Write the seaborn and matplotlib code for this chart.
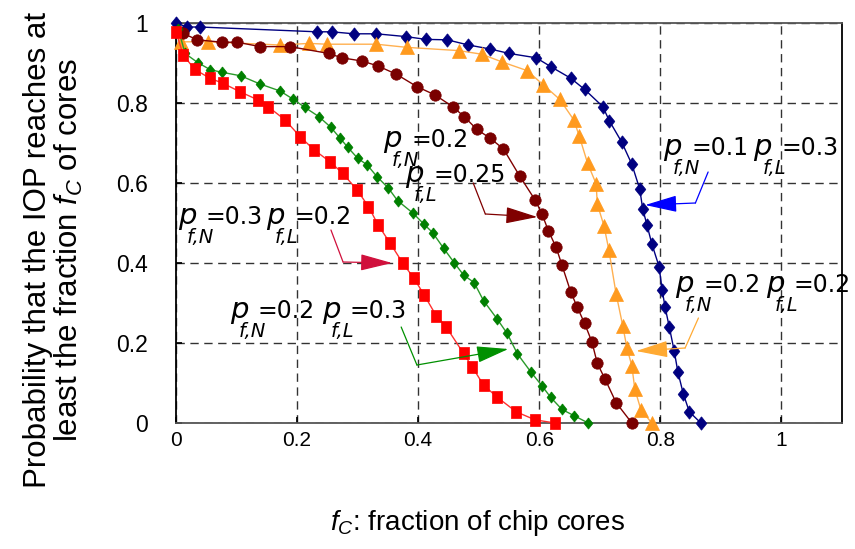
import matplotlib
matplotlib.use("Agg")
import matplotlib.pyplot as plt
import seaborn as sns
import pandas as pd
from matplotlib.transforms import offset_copy

# ---- data -------------------------------------------------------------
# p_fN = 0.1, p_fL = 0.3
navy_x = [0.0, 0.018, 0.039, 0.233, 0.257, 0.294, 0.331, 0.380, 0.413, 0.448,
          0.483, 0.519, 0.550, 0.595, 0.619, 0.652, 0.675, 0.705, 0.716, 0.736,
          0.753, 0.766, 0.771, 0.778, 0.786, 0.798, 0.803, 0.808, 0.815, 0.823,
          0.829, 0.838, 0.848, 0.867]
navy_y = [1.0, 0.99, 0.99, 0.978, 0.978, 0.973, 0.973, 0.966, 0.959, 0.958,
          0.945, 0.935, 0.924, 0.913, 0.891, 0.862, 0.834, 0.791, 0.755, 0.703,
          0.647, 0.585, 0.535, 0.495, 0.448, 0.391, 0.333, 0.289, 0.239, 0.180,
          0.128, 0.073, 0.028, 0.0]

# p_fN = 0.2, p_fL = 0.2
orange_x = [0.008, 0.053, 0.172, 0.220, 0.249, 0.331, 0.382, 0.467, 0.505, 0.538,
            0.580, 0.607, 0.634, 0.657, 0.666, 0.680, 0.694, 0.696, 0.707, 0.715,
            0.727, 0.738, 0.745, 0.753, 0.758, 0.768, 0.786]
orange_y = [0.953, 0.953, 0.945, 0.949, 0.947, 0.947, 0.939, 0.931, 0.922, 0.903,
            0.881, 0.845, 0.809, 0.758, 0.718, 0.649, 0.598, 0.547, 0.493, 0.433,
            0.323, 0.243, 0.187, 0.143, 0.084, 0.033, 0.0]

# p_fN = 0.2, p_fL = 0.25
maroon_x = [0.012, 0.035, 0.0755, 0.101, 0.139, 0.188, 0.252, 0.274, 0.307, 0.333,
            0.364, 0.398, 0.428, 0.457, 0.476, 0.497, 0.519, 0.541, 0.5675, 0.593,
            0.6045, 0.615, 0.628, 0.6375, 0.652, 0.663, 0.675, 0.687, 0.696, 0.709,
            0.727, 0.753]
maroon_y = [0.974, 0.958, 0.952, 0.952, 0.941, 0.941, 0.924, 0.913, 0.905, 0.893,
            0.872, 0.841, 0.820, 0.791, 0.766, 0.734, 0.712, 0.685, 0.618, 0.558,
            0.523, 0.481, 0.439, 0.395, 0.328, 0.289, 0.249, 0.203, 0.149, 0.109,
            0.051, 0.0]

# p_fN = 0.2, p_fL = 0.3
green_x = [0.004, 0.015, 0.036, 0.057, 0.0755, 0.107, 0.138, 0.172, 0.194, 0.213,
           0.236, 0.256, 0.271, 0.284, 0.300, 0.316, 0.332, 0.351, 0.366, 0.392,
           0.409, 0.424, 0.442, 0.4595, 0.475, 0.4925, 0.508, 0.531, 0.547, 0.564,
           0.586, 0.6045, 0.619, 0.6375, 0.658, 0.681]
green_y = [0.985, 0.924, 0.901, 0.883, 0.877, 0.868, 0.848, 0.830, 0.809, 0.789,
           0.766, 0.739, 0.712, 0.689, 0.662, 0.645, 0.616, 0.587, 0.556, 0.524,
           0.498, 0.476, 0.437, 0.401, 0.370, 0.351, 0.306, 0.259, 0.224, 0.173,
           0.128, 0.093, 0.064, 0.034, 0.018, 0.0]

# p_fN = 0.3, p_fL = 0.2
red_x = [0.0, 0.012, 0.031, 0.056, 0.078, 0.106, 0.135, 0.152, 0.180, 0.205,
         0.228, 0.2545, 0.2755, 0.299, 0.318, 0.334, 0.354, 0.375, 0.393, 0.410,
         0.430, 0.446, 0.475, 0.489, 0.508, 0.531, 0.562, 0.593, 0.626]
red_y = [0.978, 0.920, 0.884, 0.862, 0.849, 0.828, 0.808, 0.791, 0.758, 0.716,
         0.683, 0.653, 0.624, 0.583, 0.541, 0.495, 0.449, 0.399, 0.362, 0.320,
         0.268, 0.241, 0.174, 0.141, 0.095, 0.064, 0.028, 0.008, 0.0]

xticks = [0, 0.2, 0.4, 0.6, 0.8, 1.0]
xtick_labels = ["0", "0.2", "0.4", "0.6", "0.8", "1"]
yticks = [0, 0.2, 0.4, 0.6, 0.8, 1.0]
ytick_labels = ["0", "0.2", "0.4", "0.6", "0.8", "1"]

# ---- style --------------------------------------------------------------
sns.set_theme(style="white")
plt.rcParams["font.family"] = ["Liberation Sans", "DejaVu Sans"]
plt.rcParams["mathtext.fontset"] = "custom"
plt.rcParams["mathtext.it"] = "Liberation Sans:italic"
plt.rcParams["mathtext.rm"] = "Liberation Sans"

# slightly tall marker shapes
tall_diamond = [(0, 1), (0.8, 0), (0, -1), (-0.8, 0), (0, 1)]
tall_square = [(-0.8, -1), (0.8, -1), (0.8, 1), (-0.8, 1), (-0.8, -1)]

fig = plt.figure(figsize=(8.55, 5.49), dpi=100)
ax = fig.add_axes([0.2058, 0.2295, 0.7789, 0.7286])

curves = [
    (navy_x, navy_y, "#000080", "#000080", tall_diamond, 9.6),
    (orange_x, orange_y, "#FF9A1E", "#FFB050", "^", 9.5),
    (maroon_x, maroon_y, "#7A0000", "#800000", "o", 8.2),
    (green_x, green_y, "#008000", "#2A9A2A", tall_diamond, 8.0),
    (red_x, red_y, "#FF0000", "#FF3030", tall_square, 9.0),
]
for xs, ys, mcol, lcol, mk, ms in curves:
    df = pd.DataFrame({"fc": xs, "prob": ys})
    sns.lineplot(data=df, x="fc", y="prob", ax=ax, color=lcol, lw=1.0,
                 marker=mk, markersize=ms, markerfacecolor=mcol,
                 markeredgecolor=mcol, markeredgewidth=0.5,
                 estimator=None, sort=False, clip_on=False, zorder=3)

ax.set_xlim(0, 1.1)
ax.set_ylim(0, 1)
ax.set_xticks(xticks)
ax.set_xticklabels(xtick_labels, fontsize=15)
ax.set_yticks(yticks)
ax.set_yticklabels(ytick_labels, fontsize=16.5)
ax.tick_params(axis="x", direction="in", length=4, pad=6, bottom=True,
               colors="black")
ax.tick_params(axis="y", direction="in", length=4, pad=20, left=True,
               colors="black")
ax.grid(True, color="#333333", linestyle=(0, (6, 4)), linewidth=1)

for side, col in [("left", "black"), ("right", "black"),
                  ("top", "#555555"), ("bottom", "#555555")]:
    ax.spines[side].set_color(col)
    ax.spines[side].set_linewidth(1.3)

ax.set_xlabel(r"$f_C$: fraction of chip cores", fontsize=20, color="black")
ax.set_ylabel("Probability that the IOP reaches at\nleast the fraction $f_C$ of cores",
              fontsize=22.5, linespacing=1.0, color="black")
ax.xaxis.set_label_coords(0.4535, -0.212)
ax.yaxis.set_label_coords(-0.136, 0.4325)


# ---- parameter labels and arrows ------------------------------------
def param_label(x, y, sub, val):
    ax.text(x, y, "p", fontsize=21, style="italic", family="DejaVu Sans",
            va="baseline", ha="left", color="black", zorder=5)
    ax.text(x, y, sub, fontsize=14, style="italic", family="DejaVu Sans",
            va="baseline", ha="left", color="black", zorder=5,
            transform=offset_copy(ax.transData, fig=fig, x=9 * 0.72,
                                  y=-19 * 0.72, units="points"))
    ax.text(x, y, "=" + val, fontsize=17, family="DejaVu Sans",
            va="baseline", ha="left", color="black", zorder=5,
            transform=offset_copy(ax.transData, fig=fig, x=28 * 0.72,
                                  y=0, units="points"))


def leader(points, color):
    xs = [p[0] for p in points[:-1]]
    ys = [p[1] for p in points[:-1]]
    ax.plot(xs, ys, color=color, lw=0.9, clip_on=False, zorder=4)
    ax.annotate("", xy=points[-1], xytext=points[-2],
                arrowprops=dict(arrowstyle="-|>,head_length=1.0,head_width=0.26",
                                mutation_scale=20, color=color, lw=0.9,
                                shrinkA=0, shrinkB=0), zorder=4)


# p_fN=0.2, p_fL=0.25
param_label(0.342, 0.69, "f,N", "0.2")
param_label(0.3785, 0.6025, "f,L", "0.25")
leader([(0.491, 0.60), (0.511, 0.5225), (0.597, 0.515)], "#800000")

# p_fN=0.1, p_fL=0.3
param_label(0.805, 0.67, "f,N", "0.1")
param_label(0.954, 0.67, "f,L", "0.3")
leader([(0.879, 0.6275), (0.858, 0.55), (0.775, 0.545)], "#0000FF")

# p_fN=0.3, p_fL=0.2
param_label(0.003, 0.4975, "f,N", "0.3")
param_label(0.149, 0.4975, "f,L", "0.2")
leader([(0.256, 0.4825), (0.276, 0.4025), (0.357, 0.40)], "#D0103C")

# p_fN=0.2, p_fL=0.3
param_label(0.089, 0.2625, "f,N", "0.2")
param_label(0.241, 0.2625, "f,L", "0.3")
leader([(0.372, 0.24), (0.398, 0.145), (0.549, 0.185)], "#009000")

# p_fN=0.2, p_fL=0.2
param_label(0.825, 0.3275, "f,N", "0.2")
param_label(0.974, 0.3275, "f,L", "0.2")
leader([(0.863, 0.2625), (0.841, 0.1875), (0.76, 0.18)], "#FFAA33")

fig.savefig("out.png", dpi=100)
